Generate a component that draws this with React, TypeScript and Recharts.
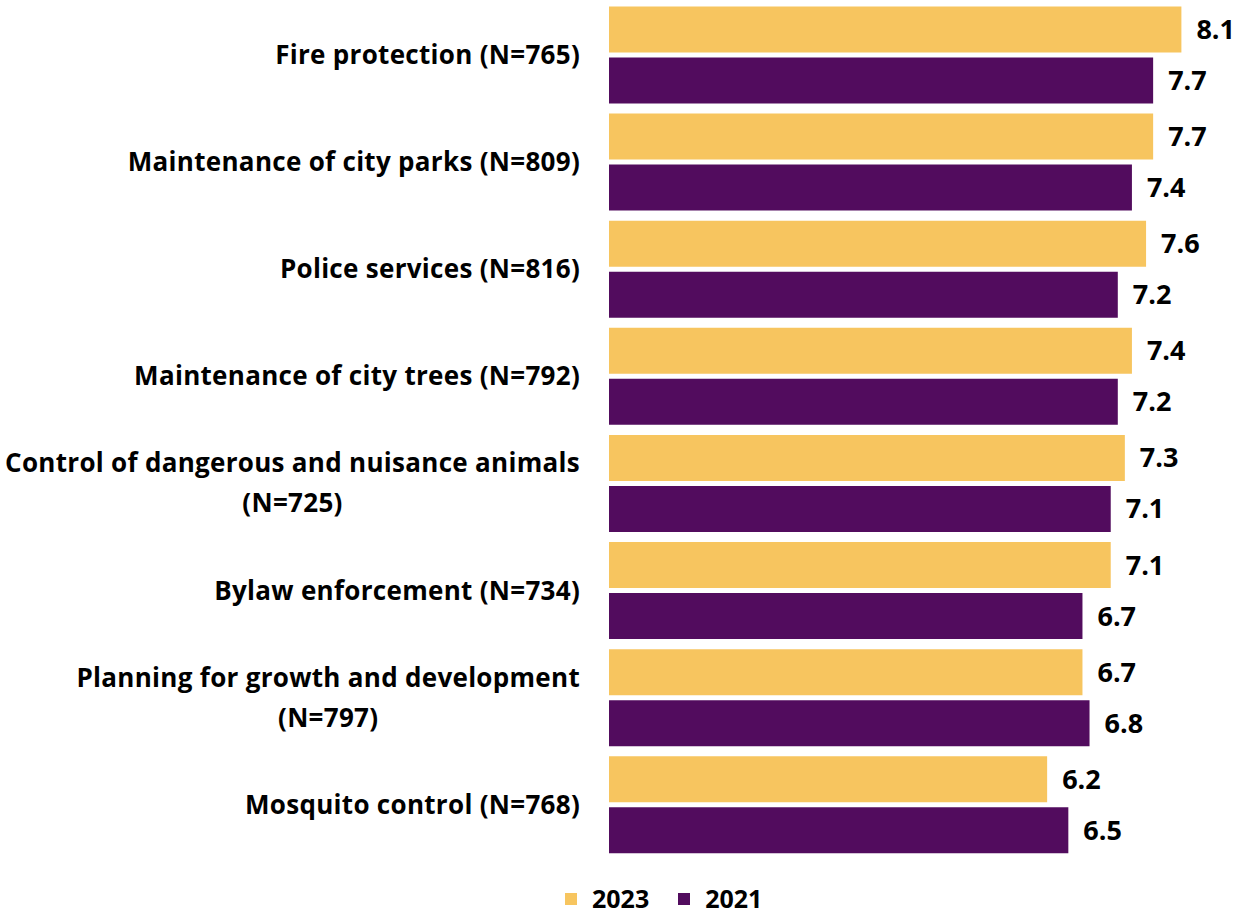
import React from 'react';
import { BarChart, Bar, XAxis, YAxis, Legend, LabelList } from 'recharts';

// service categories (\n marks where the label wraps)
const categories = [
  'Fire protection (N=765)',
  'Maintenance of city parks (N=809)',
  'Police services (N=816)',
  'Maintenance of city trees (N=792)',
  'Control of dangerous and nuisance animals\n(N=725)',
  'Bylaw enforcement (N=734)',
  'Planning for growth and development\n(N=797)',
  'Mosquito control (N=768)',
];

const scores2023 = [8.1, 7.7, 7.6, 7.4, 7.3, 7.1, 6.7, 6.2];
const scores2021 = [7.7, 7.4, 7.2, 7.2, 7.1, 6.7, 6.8, 6.5];

const seriesNames = ['2023', '2021'];
const seriesColors = ['#F7C55F', '#520C5E'];

const data = categories.map((name, i) => ({
  name,
  y2023: scores2023[i],
  y2021: scores2021[i],
}));

const FONT = "'Open Sans', sans-serif";
const TICK_SIZE = 26;
const TICK_SPACING = 0.3;

let ctx: CanvasRenderingContext2D | null = null;
const measure = (s: string) => {
  if (!ctx) ctx = document.createElement('canvas').getContext('2d');
  if (!ctx) return s.length * TICK_SIZE * 0.6;
  ctx.font = `bold ${TICK_SIZE}px ${FONT}`;
  return ctx.measureText(s).width + s.length * TICK_SPACING;
};

const CategoryTick = (props: any) => {
  const { x, y, payload } = props;
  const lines: string[] = String(payload.value).split('\n');
  const style = { letterSpacing: TICK_SPACING };
  if (lines.length === 1) {
    return (
      <text x={x} y={y} dy="0.36em" textAnchor="end" fontFamily={FONT} fontWeight="bold" fontSize={TICK_SIZE} fill="#000" style={style}>
        {lines[0]}
      </text>
    );
  }
  // wrapped labels: lines centred on each other, block right aligned
  const w = Math.max(...lines.map(measure));
  const cx = x - w / 2;
  const step = 40;
  const start = y - ((lines.length - 1) * step) / 2;
  return (
    <text textAnchor="middle" fontFamily={FONT} fontWeight="bold" fontSize={TICK_SIZE} fill="#000" style={style}>
      {lines.map((l, i) => (
        <tspan key={i} x={cx} y={start + i * step} dy="0.36em">{l}</tspan>
      ))}
    </text>
  );
};

const renderLegend = () => (
  <div style={{ height: 55, boxSizing: 'border-box', paddingTop: 26, paddingLeft: 565, display: 'flex', alignItems: 'center' }}>
    {seriesNames.map((n, i) => (
      <div key={n} style={{ display: 'flex', alignItems: 'center', marginRight: 29 }}>
        <span style={{ width: 12, height: 12, background: seriesColors[i], marginRight: 15, display: 'inline-block' }} />
        <span style={{ fontFamily: FONT, fontWeight: 'bold', fontSize: 25, lineHeight: '25px', color: '#000' }}>{n}</span>
      </div>
    ))}
  </div>
);

export default function App() {
  return (
    <div style={{ position: 'absolute', left: 0, top: 0, background: '#fff' }}>
      <BarChart
        width={1247}
        height={913}
        data={data}
        layout="vertical"
        margin={{ top: 1, right: 2, bottom: 0, left: 0 }}
        barCategoryGap={5.4}
        barGap={5}
      >
        <XAxis type="number" domain={[0, 9]} hide />
        <YAxis
          type="category"
          dataKey="name"
          width={609}
          axisLine={false}
          tickLine={false}
          tickMargin={23}
          interval={0}
          tick={<CategoryTick />}
        />
        <Legend verticalAlign="bottom" content={renderLegend} />
        <Bar dataKey="y2023" name="2023" fill={seriesColors[0]} isAnimationActive={false}>
          <LabelList dataKey="y2023" position="right" offset={15} fill="#000" fontFamily={FONT} fontWeight="bold" fontSize={27} formatter={(v: any) => Number(v).toFixed(1)} />
        </Bar>
        <Bar dataKey="y2021" name="2021" fill={seriesColors[1]} isAnimationActive={false}>
          <LabelList dataKey="y2021" position="right" offset={15} fill="#000" fontFamily={FONT} fontWeight="bold" fontSize={27} formatter={(v: any) => Number(v).toFixed(1)} />
        </Bar>
      </BarChart>
    </div>
  );
}
